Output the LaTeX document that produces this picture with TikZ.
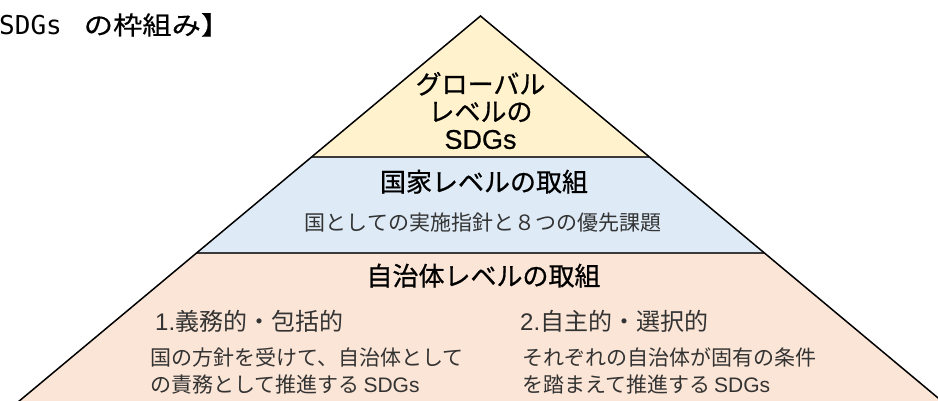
\documentclass[tikz,border=0pt]{standalone}
\usepackage{fontspec}
\setmainfont{Noto Sans CJK JP}
\newfontfamily\headfont{Noto Sans CJK JP}[FakeBold=0.7]
\newfontfamily\latinfont{Liberation Sans}
\newfontfamily\latinhead{Liberation Sans}[FakeBold=0.5]
\newfontfamily\titlemono{DejaVu Sans Mono}
\newfontfamily\titlecjk{Noto Sans CJK JP}[FakeBold=0.4]
\definecolor{yellowfill}{HTML}{FFF2CC}
\definecolor{bluefill}{HTML}{DEEBF7}
\definecolor{pinkfill}{HTML}{FBE5D6}
\definecolor{bodytext}{HTML}{333333}
\definecolor{septext}{HTML}{3A3A3A}
\tikzset{
  outline/.style={draw=black, line width=1.5pt, line join=miter},
  sepline/.style={draw=septext, line width=1.4pt},
  heading/.style={font=\headfont\fontsize{26}{27.5}\selectfont, text=black, inner sep=0pt, anchor=base},
  subline/.style={font=\fontsize{21}{22}\selectfont, text=bodytext, inner sep=0pt, anchor=base},
  colhead/.style={font=\fontsize{24}{26}\selectfont, text=bodytext, inner sep=0pt, anchor=base west},
  colbody/.style={font=\fontsize{21}{22}\selectfont, text=bodytext, inner sep=0pt, anchor=base west},
}
\begin{document}
\begin{tikzpicture}[x=1pt,y=-1pt]
\useasboundingbox (0,0) rectangle (938,401);
\clip (0,0) rectangle (938,401);
% pyramid geometry
\coordinate (apex) at (480.5,16);
\coordinate (L1) at (311.6,157);
\coordinate (R1) at (649.4,157);
\coordinate (L2) at (196.6,253);
\coordinate (R2) at (764.4,253);
\coordinate (L3) at (-3.5,420);
\coordinate (R3) at (964.5,420);
\fill[yellowfill] (apex) -- (R1) -- (L1) -- cycle;
\fill[bluefill] (L1) -- (R1) -- (R2) -- (L2) -- cycle;
\fill[pinkfill] (L2) -- (R2) -- (R3) -- (L3) -- cycle;
\draw[sepline] (L1) -- (R1);
\draw[sepline] (L2) -- (R2);
\draw[outline] (L3) -- (apex) -- (R3);
% title
\node[inner sep=0pt, anchor=base west, text=black] (title) at (-1,34.5)
  {{\titlemono\fontsize{26}{28}\selectfont SDGs}\hspace{22pt}\scalebox{1.22}[1.05]{\titlecjk\fontsize{24}{26}\selectfont の枠組み】}};
% top
\node[font=\headfont\fontsize{26}{27.5}\selectfont, text=black, inner sep=0pt, align=center] (global) at (480.5,110.5)
  {グローバル\\レベルの\\{\latinhead\fontsize{27}{27.5}\selectfont SDGs}};
% middle
\node[heading] (national) at (484,191.6) {国家レベルの取組};
\node[subline] (nationalsub) at (483,230.8) {国としての実施指針と８つの優先課題};
% bottom
\node[heading] (local) at (483.5,285.6) {自治体レベルの取組};
\node[colhead] (c1h) at (155,330.9) {{\latinfont 1.}義務的・包括的};
\node[colbody] (c1a) at (150,365.8) {国の方針を受けて、自治体として};
\node[colbody] (c1b) at (150,392.8) {の責務として推進する{\latinfont\hspace{4pt}SDGs}};
\node[colhead] (c2h) at (520,330.9) {{\latinfont 2.}自主的・選択的};
\node[colbody] (c2a) at (522,365.8) {それぞれの自治体が固有の条件};
\node[colbody] (c2b) at (522,392.8) {を踏まえて推進する{\latinfont\hspace{4pt}SDGs}};
\end{tikzpicture}
\end{document}
